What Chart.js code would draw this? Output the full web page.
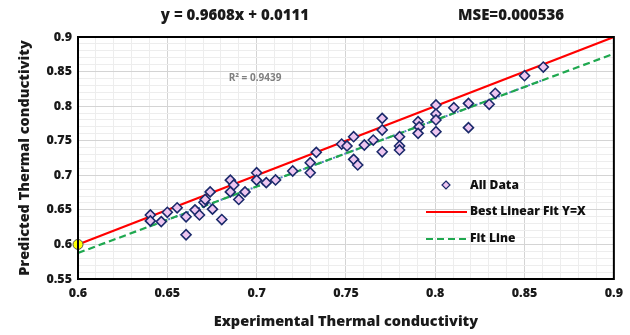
<!DOCTYPE html>
<html>
<head>
<meta charset="utf-8">
<script src="https://cdn.jsdelivr.net/npm/chart.js@4.4.1/dist/chart.umd.min.js"></script>
<style>
  html, body { margin: 0; padding: 0; background: #fff; }
  #wrap { width: 630px; height: 335px; }
</style>
</head>
<body>
<div id="wrap"><canvas id="fitChart" width="630" height="335"></canvas></div>
<script>
// experimental vs predicted values
const expX = [0.6405, 0.6405, 0.6466, 0.650, 0.6555, 0.6605, 0.6605, 0.6655, 0.668, 0.6705,
  0.6712, 0.674, 0.6753, 0.6805, 0.6853, 0.6872, 0.6853, 0.690, 0.6935, 0.700,
  0.700, 0.7054, 0.7106, 0.7202, 0.730, 0.730, 0.7334, 0.7476, 0.7506, 0.7543,
  0.7603, 0.7543, 0.7566, 0.7653, 0.7703, 0.7703, 0.7703, 0.780, 0.780, 0.780,
  0.7904, 0.791, 0.7904, 0.8004, 0.8004, 0.8004, 0.8004, 0.8104, 0.8186, 0.8186,
  0.8302, 0.8336, 0.850, 0.8605];
const predY = [0.6426, 0.634, 0.633, 0.6465, 0.653, 0.640, 0.614, 0.650, 0.6426, 0.661,
  0.665, 0.676, 0.651, 0.636, 0.693, 0.686, 0.676, 0.665, 0.676, 0.7037,
  0.693, 0.6893, 0.6932, 0.7062, 0.7182, 0.7037, 0.7332, 0.7452, 0.7424, 0.7558,
  0.7438, 0.7231, 0.7149, 0.751, 0.7824, 0.7655, 0.734, 0.7558, 0.7424, 0.7366,
  0.7775, 0.770, 0.7607, 0.8017, 0.7886, 0.780, 0.763, 0.7977, 0.804, 0.7689,
  0.8027, 0.8186, 0.844, 0.8566];

// reference line y = x
const idealX = [0.6, 0.9];
const idealY = [0.6, 0.9];
// fitted line y = 0.9608x + 0.0111
const fitX = [0.6, 0.9];
const fitY = [0.5876, 0.8758];
// trendline over the data range
const trendX = [0.64, 0.86];
const trendY = [0.626, 0.8374];

const xTicks = [0.6, 0.65, 0.7, 0.75, 0.8, 0.85, 0.9];
const yTicks = [0.55, 0.6, 0.65, 0.7, 0.75, 0.8, 0.85, 0.9];

const eqText = 'y = 0.9608x + 0.0111';
const mseText = 'MSE=0.000536';
const r2Text = 'R\u00B2 = 0.9439';
const legendLabels = ['All Data', 'Best Linear Fit Y=X', 'Fit Line'];

const FONT = '"Open Sans", "Noto Sans", sans-serif';
const W = '800';

function toPoints(xs, ys) {
    return xs.map((x, i) => ({ x: x, y: ys[i] }));
}

function isMajor(v) {
    return Math.abs(Math.round(v * 100) % 5) === 0;
}

const decorPlugin = {
    id: 'decor',
    afterDraw(chart) {
        const ctx = chart.ctx;
        const a = chart.chartArea;
        ctx.save();
        // frame
        ctx.strokeStyle = '#000';
        ctx.lineWidth = 2;
        ctx.strokeRect(a.left, a.top, a.right - a.left, a.bottom - a.top);

        // header texts
        ctx.fillStyle = '#1a1a1a';
        ctx.font = W + ' 15px ' + FONT;
        ctx.textBaseline = 'middle';
        ctx.textAlign = 'center';
        ctx.fillText(eqText, 235, 16);
        ctx.fillText(mseText, 511, 16);

        // R2 label
        ctx.fillStyle = '#7f7f7f';
        ctx.font = 'bold 10px ' + FONT;
        ctx.fillText(r2Text, 255, 78);

        // legend
        ctx.font = W + ' 12px ' + FONT;
        ctx.textAlign = 'left';
        ctx.fillStyle = '#111';
        const sd = chart.data.datasets[1];
        const ld = chart.data.datasets[2];
        const fd = chart.data.datasets[3];
        // diamond
        ctx.beginPath();
        ctx.moveTo(446, 181); ctx.lineTo(450, 185); ctx.lineTo(446, 189); ctx.lineTo(442, 185);
        ctx.closePath();
        ctx.fillStyle = sd.backgroundColor;
        ctx.fill();
        ctx.strokeStyle = sd.borderColor;
        ctx.lineWidth = 1.2;
        ctx.stroke();
        ctx.fillStyle = '#111';
        ctx.fillText(legendLabels[0], 470, 186);
        // red
        ctx.beginPath();
        ctx.moveTo(426, 212); ctx.lineTo(467, 212);
        ctx.strokeStyle = ld.borderColor;
        ctx.lineWidth = 2;
        ctx.stroke();
        ctx.fillText(legendLabels[1], 470, 212);
        // green dashed
        ctx.beginPath();
        ctx.setLineDash(fd.borderDash);
        ctx.moveTo(426, 239); ctx.lineTo(467, 239);
        ctx.strokeStyle = fd.borderColor;
        ctx.stroke();
        ctx.setLineDash([]);
        ctx.fillText(legendLabels[2], 470, 239);
        ctx.restore();
    }
};

const ctx = document.getElementById('fitChart').getContext('2d');
const myChart = new Chart(ctx, {
    type: 'scatter',
    data: {
        datasets: [
            {
                label: 'origin',
                data: [{ x: 0.6, y: 0.6 }],
                pointStyle: 'circle',
                pointRadius: 5,
                backgroundColor: '#ffff00',
                borderColor: '#555',
                borderWidth: 1,
                clip: false,
                order: 0
            },
            {
                label: legendLabels[0],
                data: toPoints(expX, predY),
                pointStyle: 'rectRot',
                pointRadius: 5,
                backgroundColor: '#edc6f0',
                borderColor: '#1b2a6b',
                borderWidth: 1.6,
                order: 1
            },
            {
                label: legendLabels[1],
                data: toPoints(idealX, idealY),
                showLine: true,
                pointRadius: 0,
                borderColor: '#ff0000',
                borderWidth: 2.2,
                clip: false,
                order: 2
            },
            {
                label: legendLabels[2],
                data: toPoints(fitX, fitY),
                showLine: true,
                pointRadius: 0,
                borderColor: '#1fa84f',
                borderWidth: 2.2,
                borderDash: [7, 4],
                order: 3
            },
            {
                label: 'trend',
                data: toPoints(trendX, trendY),
                showLine: true,
                pointRadius: 0,
                borderColor: '#5b7dc8',
                borderWidth: 2,
                borderDash: [2, 2],
                order: 4
            }
        ]
    },
    options: {
        responsive: false,
        animation: false,
        layout: { padding: { top: 37, right: 13, left: 12, bottom: 0 } },
        plugins: {
            legend: { display: false },
            tooltip: { enabled: false }
        },
        scales: {
            x: {
                type: 'linear',
                min: 0.6,
                max: 0.9,
                afterBuildTicks: (axis) => {
                    const t = [];
                    for (let i = 60; i <= 90; i++) t.push({ value: i / 100 });
                    axis.ticks = t;
                },
                afterFit: (axis) => { axis.height = 56; },
                ticks: {
                    autoSkip: false,
                    maxRotation: 0,
                    padding: 7,
                    color: '#1a1a1a',
                    font: { family: FONT, size: 12.5, weight: W },
                    callback: (v) => (isMajor(v) && xTicks.some(t => Math.abs(t - v) < 1e-6)) ? String(+v.toFixed(2)) : ''
                },
                grid: {
                    color: (c) => isMajor(c.tick.value) ? '#d4d4d4' : '#ededed',
                    lineWidth: 1,
                    drawTicks: false
                },
                border: { color: '#000', width: 2 },
                title: {
                    display: true,
                    text: 'Experimental Thermal conductivity',
                    color: '#1a1a1a',
                    font: { family: FONT, size: 14.5, weight: W },
                    padding: { top: 3 }
                }
            },
            y: {
                type: 'linear',
                min: 0.55,
                max: 0.9,
                afterBuildTicks: (axis) => {
                    const t = [];
                    for (let i = 55; i <= 90; i++) t.push({ value: i / 100 });
                    axis.ticks = t;
                },
                afterFit: (axis) => { axis.width = 66; },
                ticks: {
                    autoSkip: false,
                    padding: 6,
                    color: '#1a1a1a',
                    font: { family: FONT, size: 12.5, weight: W },
                    callback: (v) => (isMajor(v) && yTicks.some(t => Math.abs(t - v) < 1e-6)) ? String(+v.toFixed(2)) : ''
                },
                grid: {
                    color: (c) => isMajor(c.tick.value) ? '#d4d4d4' : '#ededed',
                    lineWidth: 1,
                    drawTicks: false
                },
                border: { color: '#000', width: 2 },
                title: {
                    display: true,
                    text: 'Predicted Thermal conductivity',
                    color: '#1a1a1a',
                    font: { family: FONT, size: 14.5, weight: W },
                    padding: { bottom: 2 }
                }
            }
        }
    },
    plugins: [decorPlugin]
});
</script>
</body>
</html>
